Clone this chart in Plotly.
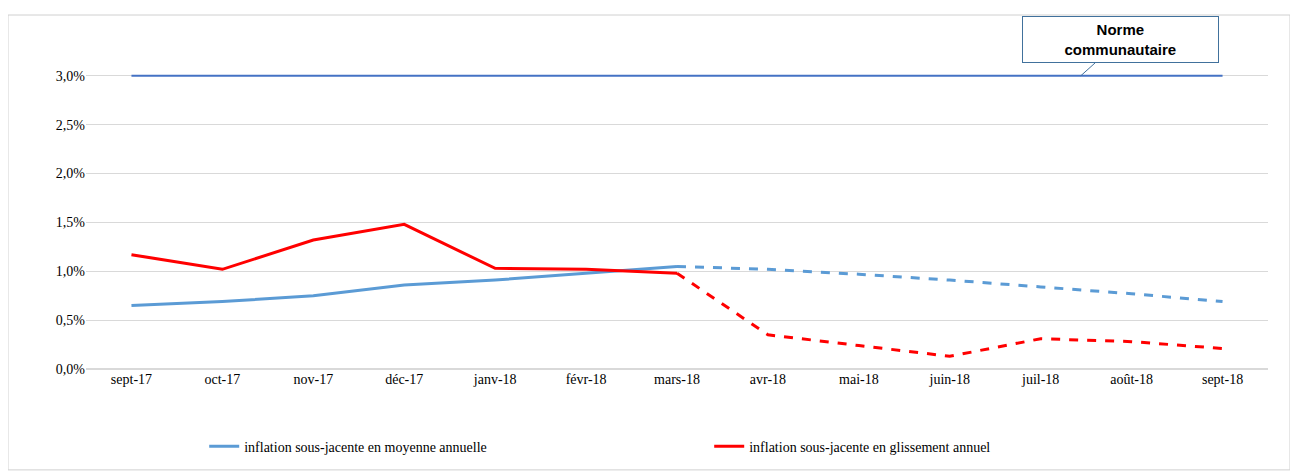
import plotly.graph_objects as go

months = ["sept-17","oct-17","nov-17","déc-17","janv-18","févr-18","mars-18",
          "avr-18","mai-18","juin-18","juil-18","août-18","sept-18"]
moyenne = [0.65,0.69,0.75,0.86,0.91,0.98,1.05,1.02,0.97,0.91,0.84,0.77,0.69]
glissement = [1.17,1.02,1.32,1.48,1.03,1.02,0.98,0.35,0.24,0.13,0.31,0.28,0.21]
norme = [3.0]*13
split = 6

def part(v, solid):
    return [x if ((i <= split) if solid else (i >= split)) else None for i, x in enumerate(v)]

blue = "#5B9BD5"
red = "#FF0000"
fig = go.Figure()
fig.add_trace(go.Scatter(x=months, y=norme, mode="lines", line=dict(color="#4472C4", width=2), showlegend=False))
fig.add_trace(go.Scatter(x=months, y=part(moyenne, True), mode="lines", line=dict(color=blue, width=3),
                         name="inflation sous-jacente en moyenne annuelle"))
fig.add_trace(go.Scatter(x=months, y=part(moyenne, False), mode="lines", line=dict(color=blue, width=3, dash="dash"), showlegend=False))
fig.add_trace(go.Scatter(x=months, y=part(glissement, True), mode="lines", line=dict(color=red, width=3),
                         name="inflation sous-jacente en glissement annuel"))
fig.add_trace(go.Scatter(x=months, y=part(glissement, False), mode="lines", line=dict(color=red, width=3, dash="dash"), showlegend=False))

pad = "&nbsp;" * 9
fig.add_annotation(x=10.44, y=3.0, ax=40, ay=-36, axref="pixel", ayref="pixel",
                   text="<b>Norme</b><br><b>" + pad + "communautaire" + pad + "</b>",
                   showarrow=True, arrowhead=0, standoff=0,
                   arrowcolor="#41719C", arrowwidth=1,
                   bordercolor="#41719C", borderwidth=1, bgcolor="white", borderpad=4,
                   font=dict(family="Liberation Sans", size=15, color="black"))
fig.add_shape(type="rect", xref="paper", yref="paper", x0=-0.066, x1=1.0186, y0=-0.295, y1=1.035,
              line=dict(color="#D0D0D0", width=1))

fig.update_layout(
    width=1298, height=475, paper_bgcolor="white", plot_bgcolor="white",
    margin=dict(l=78, r=38, t=19, b=114, autoexpand=False),
    font=dict(family="Liberation Serif", size=14, color="black"),
    xaxis=dict(type="category", range=[-0.5, 12.5], showgrid=False, ticks="", tickfont=dict(size=14), automargin=False),
    yaxis=dict(range=[0, 3.5], tickvals=[0,0.5,1,1.5,2,2.5,3],
               ticktext=["0,0%","0,5%","1,0%","1,5%","2,0%","2,5%","3,0%"], automargin=False,
               gridcolor="#D9D9D9", gridwidth=1, zeroline=True, zerolinecolor="#D9D9D9", tickfont=dict(size=14)),
    legend=dict(orientation="h", x=0.1, y=-0.18, xanchor="left", yanchor="top",
                font=dict(size=14), entrywidth=460, entrywidthmode="pixels"),
)
fig.write_html("out.html")
